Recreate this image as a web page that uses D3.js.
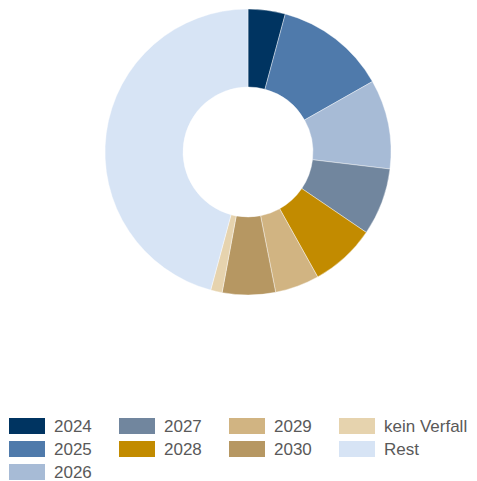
<!DOCTYPE html>
<html>
<head>
<meta charset="utf-8">
<script src="https://cdn.jsdelivr.net/npm/d3@7"></script>
<style>
html,body{margin:0;padding:0;background:#fff;}
svg{display:block;}
</style>
</head>
<body>
<svg id="chart" width="477" height="481"></svg>
<script>
const categories = ["2024","2025","2026","2027","2028","2029","2030","kein Verfall","Rest"];
const values = [4.2, 12.6, 10.1, 7.6, 7.4, 5.0, 6.0, 1.3, 45.8];
const colors = ["#003461","#4f7aab","#a7bbd6","#71869e","#c28b00","#d1b482","#b69762","#e6d3ae","#d7e4f5"];
const legendColumns = [3, 2, 2, 2];

const svg = d3.select("#chart");
const cx = 248, cy = 152, rOuter = 143, rInner = 65;

const pie = d3.pie().sort(null).value(d => d);
const arc = d3.arc().innerRadius(rInner).outerRadius(rOuter);
const color = d3.scaleOrdinal().domain(categories).range(colors);

const g = svg.append("g").attr("transform", `translate(${cx},${cy})`);
g.selectAll("path")
  .data(pie(values))
  .join("path")
  .attr("d", arc)
  .attr("fill", (d, i) => color(categories[i]))
  .attr("stroke", "#ffffff")
  .attr("stroke-width", 0.4);

// legend (column-major)
const positions = [];
legendColumns.forEach((n, c) => { for (let r = 0; r < n; r++) positions.push([c, r]); });
const colX = d3.scaleLinear().domain([0, 1]).range([9, 119]);
const rowY = d3.scaleLinear().domain([0, 1]).range([418, 441]);

const lg = svg.append("g");
const items = lg.selectAll("g.item")
  .data(categories)
  .join("g")
  .attr("class", "item")
  .attr("transform", (d, i) => `translate(${colX(positions[i][0])},${rowY(positions[i][1])})`);
items.append("rect")
  .attr("width", 36).attr("height", 16)
  .attr("fill", d => color(d));
items.append("text")
  .attr("x", 45).attr("y", 13.5)
  .attr("font-family", "Liberation Sans, Arial, sans-serif")
  .attr("font-size", 17)
  .attr("fill", "#595959")
  .text(d => d);
</script>
</body>
</html>
